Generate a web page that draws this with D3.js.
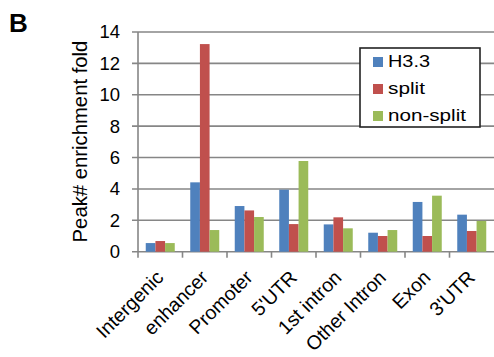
<!DOCTYPE html>
<html>
<head>
<meta charset="utf-8">
<script src="https://cdn.jsdelivr.net/npm/d3@7"></script>
<style>
  body { margin: 0; background: #fff; }
  text { font-family: Arial, "Liberation Sans", sans-serif; }
</style>
</head>
<body>
<svg id="chart" width="494" height="357"></svg>
<script>
var categories = ["Intergenic", "enhancer", "Promoter", "5'UTR", "1st intron", "Other Intron", "Exon", "3'UTR"];
var seriesNames = ["H3.3", "split", "non-split"];
var h33 = [0.55, 4.42, 2.91, 3.95, 1.74, 1.21, 3.17, 2.36];
var split = [0.68, 13.23, 2.63, 1.76, 2.19, 1.0, 1.0, 1.32];
var nonSplit = [0.55, 1.38, 2.21, 5.78, 1.49, 1.38, 3.57, 1.96];
var yTicks = [0, 2, 4, 6, 8, 10, 12, 14];
var colors = ["#4F81BD", "#C0504D", "#9BBB59"];

var series = [h33, split, nonSplit];
var svg = d3.select("#chart");
var plotL = 138, plotR = 494, plotT = 32, plotB = 251.7;

var x = d3.scaleBand().domain(categories).range([plotL, plotR]);
var xs = d3.scaleBand().domain(seriesNames).range([0, 29]);
var y = d3.scaleLinear().domain([0, 14]).range([plotB, plotT]);

// gridlines
svg.append("g").selectAll("line").data(yTicks).enter().append("line")
  .attr("x1", plotL - 6).attr("x2", plotR)
  .attr("y1", function(d) { return y(d); }).attr("y2", function(d) { return y(d); })
  .attr("stroke", "#868686").attr("stroke-width", 1.6);

// y axis
svg.append("line").attr("x1", plotL).attr("x2", plotL).attr("y1", plotT).attr("y2", plotB + 6)
  .attr("stroke", "#868686").attr("stroke-width", 1.6);

svg.append("g").selectAll("text").data(yTicks).enter().append("text")
  .attr("x", plotL - 18).attr("y", function(d) { return y(d); })
  .attr("dy", "0.35em").attr("text-anchor", "end")
  .attr("font-size", 18.5).text(function(d) { return d; });

// x ticks
svg.append("g").selectAll("line").data(categories.slice(1)).enter().append("line")
  .attr("x1", function(d) { return x(d); }).attr("x2", function(d) { return x(d); })
  .attr("y1", plotB).attr("y2", plotB + 6)
  .attr("stroke", "#868686").attr("stroke-width", 1.6);

// bars
series.forEach(function(vals, si) {
  svg.append("g").selectAll("rect").data(vals).enter().append("rect")
    .attr("x", function(d, i) { return x(categories[i]) + x.bandwidth() / 2 - 14.5 + xs(seriesNames[si]); })
    .attr("width", xs.bandwidth())
    .attr("y", function(d) { return y(d); })
    .attr("height", function(d) { return plotB - y(d); })
    .attr("fill", colors[si]);
});

// x labels
svg.append("g").selectAll("text").data(categories).enter().append("text")
  .attr("transform", function(d) { return "translate(" + (x(d) + x.bandwidth() / 2 + 4.5) + "," + (plotB + 27) + ") rotate(-45)"; })
  .attr("text-anchor", "end")
  .attr("font-size", 19.5).text(function(d) { return d; });

// y title
svg.append("text").attr("transform", "translate(87,141.5) rotate(-90)")
  .attr("text-anchor", "middle").attr("font-size", 20.3).text("Peak# enrichment fold");

// panel letter
svg.append("text").attr("x", 9).attr("y", 32).attr("font-size", 26).attr("font-weight", "bold").text("B");

// legend
var legendW = [42, 37, 78];
var lg = svg.append("g");
lg.append("rect").attr("x", 360).attr("y", 48).attr("width", 120).attr("height", 79)
  .attr("fill", "#fff").attr("stroke", "#222").attr("stroke-width", 1.6);
seriesNames.forEach(function(n, i) {
  lg.append("rect").attr("x", 373).attr("y", 57 + i * 27).attr("width", 10).attr("height", 10).attr("fill", colors[i]);
  lg.append("text").attr("x", 388).attr("y", 67 + i * 27)
    .attr("font-size", 16.5)
    .attr("textLength", legendW[i]).attr("lengthAdjust", "spacingAndGlyphs")
    .text(n);
});
</script>
</body>
</html>
